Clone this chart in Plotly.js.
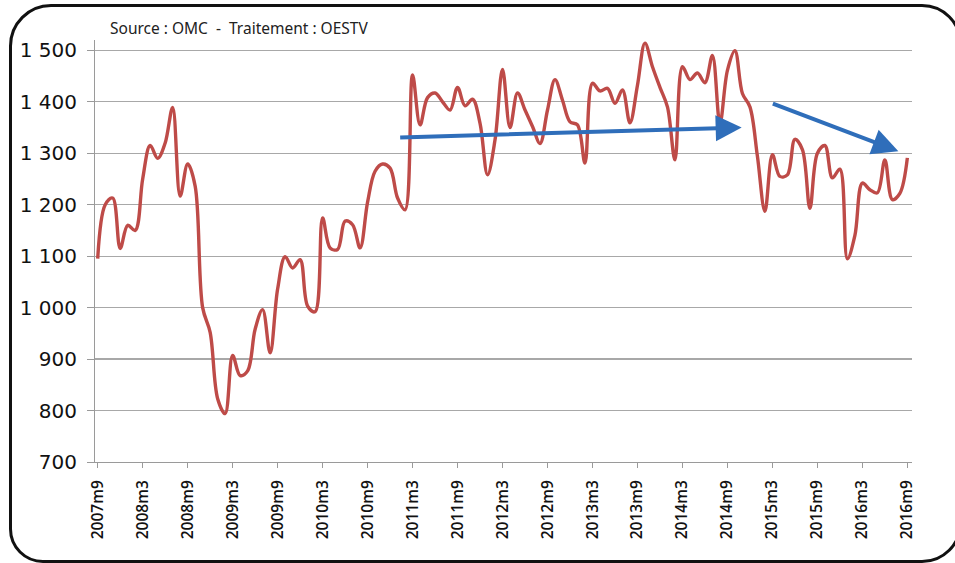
<!DOCTYPE html>
<html>
<head>
<meta charset="utf-8">
<script src="https://cdn.plot.ly/plotly-3.0.1.min.js"></script>
<style>
  html, body { margin: 0; padding: 0; background: #ffffff; overflow: hidden; }
  #wrap { position: relative; width: 955px; height: 563px; }
  #chart { width: 955px; height: 563px; }
  #frame {
    position: absolute; left: 8.5px; top: 3.5px; width: 953px; height: 559px;
    box-sizing: border-box; border: 3px solid #111111;
    border-radius: 42px 40px 40px 34px; pointer-events: none;
  }
</style>
</head>
<body>
<div id="wrap">
  <div id="chart"></div>
  <div id="frame"></div>
</div>
<script>
// Months (categories)
const months = [
  "2007m9","2007m10","2007m11","2007m12",
  "2008m1","2008m2","2008m3","2008m4","2008m5","2008m6","2008m7","2008m8","2008m9","2008m10","2008m11","2008m12",
  "2009m1","2009m2","2009m3","2009m4","2009m5","2009m6","2009m7","2009m8","2009m9","2009m10","2009m11","2009m12",
  "2010m1","2010m2","2010m3","2010m4","2010m5","2010m6","2010m7","2010m8","2010m9","2010m10","2010m11","2010m12",
  "2011m1","2011m2","2011m3","2011m4","2011m5","2011m6","2011m7","2011m8","2011m9","2011m10","2011m11","2011m12",
  "2012m1","2012m2","2012m3","2012m4","2012m5","2012m6","2012m7","2012m8","2012m9","2012m10","2012m11","2012m12",
  "2013m1","2013m2","2013m3","2013m4","2013m5","2013m6","2013m7","2013m8","2013m9","2013m10","2013m11","2013m12",
  "2014m1","2014m2","2014m3","2014m4","2014m5","2014m6","2014m7","2014m8","2014m9","2014m10","2014m11","2014m12",
  "2015m1","2015m2","2015m3","2015m4","2015m5","2015m6","2015m7","2015m8","2015m9","2015m10","2015m11","2015m12",
  "2016m1","2016m2","2016m3","2016m4","2016m5","2016m6","2016m7","2016m8","2016m9"
];

// Series values
const values = [
  1095, 1200, 1213, 1115,
  1160, 1150, 1250, 1315, 1290, 1320, 1389, 1217, 1279, 1236, 1000, 952,
  823, 794, 907, 868, 877, 958, 996, 912, 1036, 1099, 1077, 1093,
  1003, 992, 1174, 1116, 1113, 1168, 1161, 1116, 1205, 1265, 1279, 1271,
  1213, 1190, 1452, 1355, 1408, 1417, 1400, 1384, 1428, 1392, 1405, 1358,
  1258, 1326, 1463, 1350, 1417, 1384, 1352, 1319, 1384, 1443, 1403, 1361,
  1355, 1281, 1436, 1421, 1426, 1397, 1423, 1359, 1432, 1514, 1468, 1428,
  1390, 1287, 1468, 1443, 1456, 1437, 1490, 1358, 1461, 1499, 1416, 1390,
  1294, 1187, 1297, 1255, 1258, 1327, 1307, 1193, 1300, 1315, 1252, 1269,
  1095, 1140, 1242, 1229, 1223, 1287, 1210, 1222, 1291
];

// Tick labels shown on the x axis
const tickLabels = [
  "2007m9","2008m3","2008m9","2009m3","2009m9","2010m3","2010m9","2011m3","2011m9",
  "2012m3","2012m9","2013m3","2013m9","2014m3","2014m9","2015m3","2015m9","2016m3","2016m9"
];

// Y tick values
const yTicks = [700, 800, 900, 1000, 1100, 1200, 1300, 1400, 1500];

const sourceText = "Source : OMC  -  Traitement : OESTV";

const trace = {
  x: months,
  y: values,
  type: "scatter",
  mode: "lines",
  line: { color: "#BE4B48", width: 3.4, shape: "spline", smoothing: 1 },
  hoverinfo: "x+y"
};

const layout = {
  width: 955,
  height: 563,
  margin: { l: 95, r: 43, t: 40, b: 101 },
  paper_bgcolor: "#ffffff",
  plot_bgcolor: "#ffffff",
  showlegend: false,
  separators: ", ",
  xaxis: {
    type: "category",
    range: [-0.36, 108.62],
    tickmode: "array",
    tickvals: tickLabels,
    ticktext: tickLabels,
    tickangle: -90,
    ticks: "outside",
    ticklen: 5,
    tickwidth: 1,
    tickcolor: "#9a9a9a",
    showgrid: false,
    showline: true,
    linecolor: "#9a9a9a",
    linewidth: 1,
    zeroline: false,
    ticklabelstandoff: 6,
    tickfont: { family: "Open Sans, sans-serif", size: 15.5, weight: 600, color: "#111111" }
  },
  yaxis: {
    range: [700, 1520],
    tickmode: "array",
    tickvals: yTicks,
    separatethousands: true,
    tickformat: ",d",
    ticks: "outside",
    ticklen: 7,
    tickwidth: 1,
    tickcolor: "#9a9a9a",
    showgrid: true,
    gridcolor: "#a8a8a8",
    gridwidth: 1.2,
    showline: true,
    linecolor: "#9a9a9a",
    linewidth: 1,
    zeroline: false,
    ticklabelstandoff: 6,
    tickfont: { family: "DejaVu Sans, sans-serif", size: 20, color: "#111111" }
  },
  annotations: [
    {
      text: sourceText,
      xref: "paper", yref: "paper",
      x: 0.016, y: 1.028,
      xanchor: "left", yanchor: "middle",
      showarrow: false,
      font: { family: "Noto Sans, sans-serif", size: 15.5, color: "#222222" }
    },
    {
      text: "",
      x: 85.9, y: 1350,
      xref: "x", yref: "y",
      showarrow: true,
      ax: -343, ay: 10,
      axref: "pixel", ayref: "pixel",
      arrowhead: 2, arrowsize: 1.3, arrowwidth: 4,
      arrowcolor: "#2F6EBA", standoff: 0, startstandoff: 0
    },
    {
      text: "",
      x: 106.8, y: 1304,
      xref: "x", yref: "y",
      showarrow: true,
      ax: -127, ay: -48,
      axref: "pixel", ayref: "pixel",
      arrowhead: 2, arrowsize: 1.3, arrowwidth: 4,
      arrowcolor: "#2F6EBA", standoff: 0, startstandoff: 0
    }
  ]
};

Plotly.newPlot("chart", [trace], layout, { displayModeBar: false, staticPlot: true });
</script>
</body>
</html>
